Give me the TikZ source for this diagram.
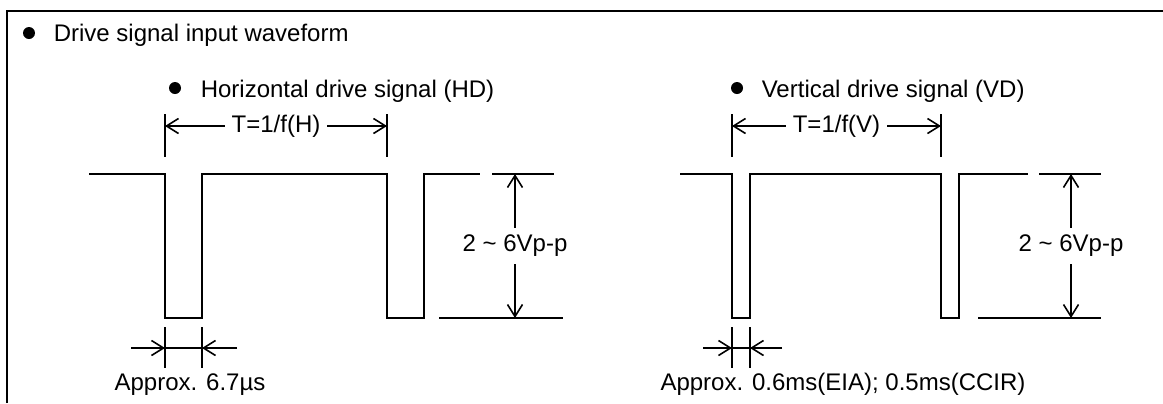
\documentclass[tikz,border=0pt]{standalone}
\usepackage{fontspec}
\setmainfont{Liberation Sans}
\usetikzlibrary{arrows.meta}

\begin{document}
\begin{tikzpicture}[x=0.5pt,y=-0.5pt,line width=0.8pt,
        barb/.style={-{Straight Barb[length=6pt,width=7.5pt]}},
        dimbarb/.style={{Straight Barb[length=6pt,width=7.5pt]}-{Straight Barb[length=6pt,width=7.5pt]}},
        txt/.style={font=\fontsize{12}{14}\selectfont,inner sep=0pt},
        gaptxt/.style={txt,fill=white,inner sep=3.5pt},
        dot/.style={circle,fill,inner sep=0pt,minimum size=6pt}]
        \useasboundingbox (0,0) rectangle (1163,403);

        % frame, open at the right and at the bottom
        \coordinate (F1) at (7,403);
        \coordinate (F2) at (7,11);
        \coordinate (F3) at (1163,11);
        \draw[line width=1.3pt] (F1)--(F2)--(F3);

        \node[dot] (b0) at (29,33) {};
        \node[txt,anchor=base west] (title) at (53,41) {Drive signal input waveform};

        %%% horizontal drive signal
        \node[dot] (bH) at (175,88) {};
        \node[txt,anchor=base west] (titleH) at (200,97) {Horizontal drive signal (HD)};

        \coordinate (H1) at (89,174);
        \coordinate (H2) at (165,174);
        \coordinate (H3) at (165,318);
        \coordinate (H4) at (202,318);
        \coordinate (H5) at (202,174);
        \coordinate (H6) at (387,174);
        \coordinate (H7) at (387,318);
        \coordinate (H8) at (424,318);
        \coordinate (H9) at (424,174);
        \coordinate (H10) at (480,174);
        \draw (H1)--(H2)--(H3)--(H4)--(H5)--(H6)--(H7)--(H8)--(H9)--(H10);

        % period
        \coordinate (HTa) at (165,114);
        \coordinate (HTb) at (165,157);
        \coordinate (HTc) at (387,114);
        \coordinate (HTd) at (387,157);
        \draw (HTa)--(HTb);
        \draw (HTc)--(HTd);
        \coordinate (HTl) at (165,126);
        \coordinate (HTr) at (387,126);
        \draw[dimbarb] (HTl)--(HTr) node[midway,gaptxt] (periodH) {T=1/f(H)};

        % amplitude
        \coordinate (HAa) at (492,174);
        \coordinate (HAb) at (554,174);
        \coordinate (HAc) at (439,318);
        \coordinate (HAd) at (563,318);
        \draw (HAa)--(HAb);
        \draw (HAc)--(HAd);
        \coordinate (HAt) at (515,174);
        \coordinate (HAu) at (515,318);
        \draw[dimbarb] (HAt)--(HAu) node[midway,gaptxt] (amplH) {2 \textasciitilde{} 6Vp-p};

        % pulse width
        \coordinate (HWa) at (165,327);
        \coordinate (HWb) at (165,368);
        \coordinate (HWc) at (202,327);
        \coordinate (HWd) at (202,368);
        \draw (HWa)--(HWb);
        \draw (HWc)--(HWd);
        \coordinate (HW1) at (131,348);
        \coordinate (HW2) at (165,348);
        \coordinate (HW3) at (202,348);
        \coordinate (HW4) at (237,348);
        \draw[barb] (HW1)--(HW2);
        \draw (HW2)--(HW3);
        \draw[barb] (HW4)--(HW3);
        \node[txt,anchor=base] (widthH) at (190,390) {Approx. 6.7µs};

        %%% vertical drive signal
        \node[dot] (bV) at (737,88) {};
        \node[txt,anchor=base west] (titleV) at (761,97) {Vertical drive signal (VD)};

        \coordinate (V1) at (680,174);
        \coordinate (V2) at (732,174);
        \coordinate (V3) at (732,318);
        \coordinate (V4) at (750,318);
        \coordinate (V5) at (750,174);
        \coordinate (V6) at (941,174);
        \coordinate (V7) at (941,318);
        \coordinate (V8) at (959,318);
        \coordinate (V9) at (959,174);
        \coordinate (V10) at (1028,174);
        \draw (V1)--(V2)--(V3)--(V4)--(V5)--(V6)--(V7)--(V8)--(V9)--(V10);

        % period
        \coordinate (VTa) at (732,114);
        \coordinate (VTb) at (732,157);
        \coordinate (VTc) at (941,114);
        \coordinate (VTd) at (941,157);
        \draw (VTa)--(VTb);
        \draw (VTc)--(VTd);
        \coordinate (VTl) at (732,126);
        \coordinate (VTr) at (941,126);
        \draw[dimbarb] (VTl)--(VTr) node[midway,gaptxt] (periodV) {T=1/f(V)};

        % amplitude
        \coordinate (VAa) at (1039,174);
        \coordinate (VAb) at (1101,174);
        \coordinate (VAc) at (978,318);
        \coordinate (VAd) at (1101,318);
        \draw (VAa)--(VAb);
        \draw (VAc)--(VAd);
        \coordinate (VAt) at (1071,174);
        \coordinate (VAu) at (1071,318);
        \draw[dimbarb] (VAt)--(VAu) node[midway,gaptxt] (amplV) {2 \textasciitilde{} 6Vp-p};

        % pulse width
        \coordinate (VWa) at (732,327);
        \coordinate (VWb) at (732,368);
        \coordinate (VWc) at (750,327);
        \coordinate (VWd) at (750,368);
        \draw (VWa)--(VWb);
        \draw (VWc)--(VWd);
        \coordinate (VW1) at (703,348);
        \coordinate (VW2) at (732,348);
        \coordinate (VW3) at (750,348);
        \coordinate (VW4) at (782,348);
        \draw[barb] (VW1)--(VW2);
        \draw (VW2)--(VW3);
        \draw[barb] (VW4)--(VW3);
        \node[txt,anchor=base] (widthV) at (843,390) {Approx. 0.6ms(EIA); 0.5ms(CCIR)};
\end{tikzpicture}
\end{document}
